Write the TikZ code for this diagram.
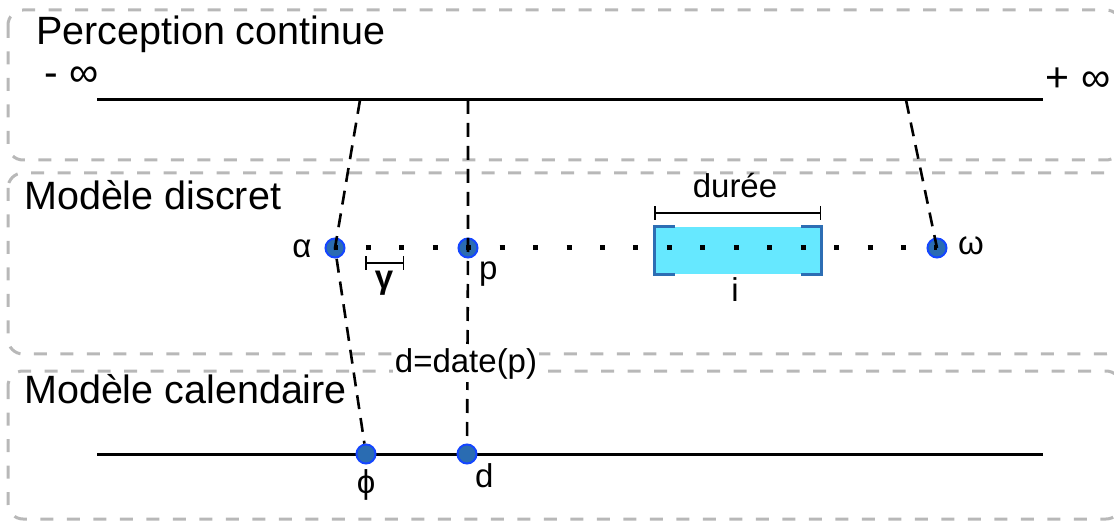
\documentclass[tikz,border=0pt]{standalone}
\usepackage{fontspec}
\setmainfont{Liberation Sans}
\usetikzlibrary{arrows.meta}
\definecolor{zonegray}{RGB}{184,184,184}
\definecolor{ptfill}{RGB}{42,108,178}
\definecolor{ptedge}{RGB}{20,70,255}
\definecolor{ivfill}{RGB}{102,232,255}
\definecolor{ivedge}{RGB}{45,110,180}
\begin{document}
\begin{tikzpicture}[x=1pt,y=-1pt,
  zone/.style={draw=zonegray, line width=3pt, dash pattern=on 13pt off 13.5pt, rounded corners=15pt},
  ptnode/.style={circle, fill=ptfill, draw=ptedge, line width=2pt, minimum size=19pt, inner sep=0pt},
  link/.style={line width=2.6pt, dash pattern=on 14pt off 9pt},
  axis/.style={line width=3pt},
  dots/.style={line width=5pt, dash pattern=on 5pt off 28.44pt, dash phase=2.5pt},
  bracket/.style={draw=ivedge, line width=3pt},
  dimline/.style={line width=1.5pt, {Bar[width=14pt,line width=1.5pt]}-{Bar[width=14pt,line width=1.5pt]}},
  lbl/.style={font=\fontsize{33}{35}\selectfont, inner sep=0pt},
  title/.style={font=\fontsize{39.5}{42}\selectfont, inner sep=0pt, anchor=base west}]
\useasboundingbox (0,0) rectangle (1114,521);
% zones
\draw[zone] (8,10) rectangle (1121,160);
\draw[zone] (8,173) rectangle (1121,354);
\draw[zone] (8,371) rectangle (1121,519);
% titles
\node[title] (tpc) at (36,45) {Perception continue};
\node[title] (tmd) at (24,210) {Modèle discret};
\node[title] (tmc) at (24,403) {Modèle calendaire};
% axes
\coordinate (a1) at (97,100);
\coordinate (a2) at (1043,100);
\coordinate (b1) at (97,454);
\coordinate (b2) at (1043,454);
\draw[axis] (a1) -- (a2);
\draw[axis] (b1) -- (b2);
\node[font=\fontsize{41}{43}\selectfont, inner sep=0pt] (minf) at (72,77) {- ∞};
\node[font=\fontsize{41}{43}\selectfont, inner sep=0pt] (pinf) at (1078,80) {+ ∞};
% interval
\node[fill=ivfill, minimum width=166pt, minimum height=47pt, inner sep=0pt] (iv) at (738,250.5) {};
% points
\node[ptnode] (alpha) at (335,248) {};
\node[ptnode] (p) at (468,248) {};
\node[ptnode] (omega) at (937,248) {};
\node[ptnode] (phi) at (366,454) {};
\node[ptnode] (d) at (467,454) {};
% dotted discrete line
\draw[dots] (alpha.center) -- (omega.center);
% brackets
\draw[bracket] ([xshift=20pt]iv.north west) -- (iv.north west) -- (iv.south west) -- ([xshift=20pt]iv.south west);
\draw[bracket] ([xshift=-20pt]iv.north east) -- (iv.north east) -- (iv.south east) -- ([xshift=-20pt]iv.south east);
% links
\coordinate (t1) at (360,100);
\coordinate (t2) at (468,100);
\coordinate (t3) at (906,100);
\draw[link] (t1) -- (alpha.center) -- (phi);
\draw[link] (t2) -- (p.center) -- (d);
\draw[link] (t3) -- (omega.center);
% dimensions
\coordinate (g1) at (365,263);
\coordinate (g2) at (404,263);
\draw[dimline] (g1) -- (g2);
\coordinate (du1) at (654,213);
\coordinate (du2) at (821,213);
\draw[dimline] (du1) -- (du2);
% labels
\node[lbl] (lalpha) at (302,249) {α};
\node[lbl, anchor=base west] (lp) at (479,280) {p};
\node[lbl] (lgamma) at (384,283) {\bfseries γ};
\node[lbl, anchor=base] (ldur) at (735,198) {durée};
\node[lbl, anchor=base] (li) at (735,302) {i};
\node[lbl] (lomega) at (971,246) {ω};
\node[lbl] (lphi) at (366,485) {ϕ};
\node[lbl, anchor=base west] (ld) at (475,487) {d};
\node[lbl, anchor=base, fill=white, inner sep=2pt] (ldate) at (466,373) {d=date(p)};
\end{tikzpicture}
\end{document}
